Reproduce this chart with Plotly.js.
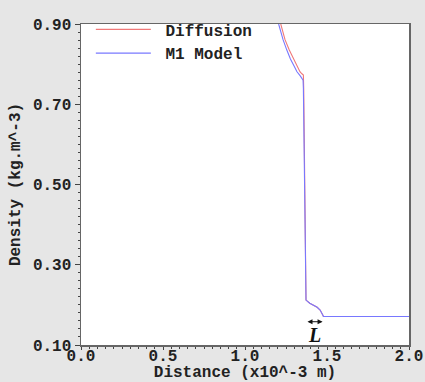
<!DOCTYPE html>
<html><head><meta charset="utf-8">
<script src="https://cdn.plot.ly/plotly-3.0.1.min.js"></script>
<style>html,body{margin:0;padding:0;background:#e6e6e6;}#chart{width:425px;height:382px;}</style>
</head><body><div id="chart"></div>
<script>
const diffusionX = [1.218, 1.230, 1.244, 1.270, 1.295, 1.318, 1.335, 1.347, 1.356, 1.358, 1.362, 1.366, 1.370, 1.372, 1.395, 1.420, 1.440, 1.458, 1.468, 1.475, 1.478, 1.500, 2.000];
const diffusionY = [0.900, 0.880, 0.861, 0.835, 0.813, 0.795, 0.781, 0.776, 0.773, 0.740, 0.600, 0.450, 0.300, 0.212, 0.204, 0.199, 0.194, 0.187, 0.181, 0.174, 0.171, 0.171, 0.171];
const m1X = [1.205, 1.217, 1.232, 1.255, 1.277, 1.300, 1.317, 1.338, 1.354, 1.356, 1.360, 1.365, 1.369, 1.372, 1.395, 1.420, 1.440, 1.458, 1.468, 1.475, 1.478, 1.500, 2.000];
const m1Y = [0.900, 0.880, 0.861, 0.835, 0.813, 0.795, 0.781, 0.770, 0.760, 0.740, 0.600, 0.450, 0.300, 0.212, 0.204, 0.199, 0.194, 0.187, 0.181, 0.174, 0.171, 0.171, 0.171];
const xTicks = [0.0, 0.5, 1.0, 1.5, 2.0];
const xTickText = ['0.0', '0.5', '1.0', '1.5', '2.0'];
const yTicks = [0.10, 0.30, 0.50, 0.70, 0.90];
const yTickText = ['0.10', '0.30', '0.50', '0.70', '0.90'];
const lenL = {x0: 1.372, x1: 1.473, y: 0.158, labelX: 1.421, labelY: 0.124};

const mono = {family: 'Liberation Mono, Courier New, monospace', size: 16, color: '#222', weight: 'bold'};
const data = [
  {x: diffusionX, y: diffusionY, mode: 'lines', name: '\u00a0Diffusion', line: {color: 'rgb(240,120,120)', width: 1.1}},
  {x: m1X, y: m1Y, mode: 'lines', name: '\u00a0M1 Model', line: {color: 'rgb(120,120,255)', width: 1.1}}
];
const axisCommon = {
  showline: true, mirror: true, linecolor: '#666', linewidth: 1.5,
  ticks: 'outside', ticklen: 5, tickcolor: '#444', showgrid: false, zeroline: false,
  tickfont: mono,
  minor: {ticks: 'outside', ticklen: 2, tickcolor: '#444', showgrid: false}
};
const layout = {
  width: 425, height: 382,
  margin: {l: 81, r: 16, t: 14, b: 37},
  paper_bgcolor: '#e6e6e6', plot_bgcolor: '#ffffff',
  showlegend: true,
  legend: {x: 0.03, y: 1.036, xanchor: 'left', yanchor: 'top', bgcolor: 'rgba(0,0,0,0)',
    font: mono, itemwidth: 55, tracegroupgap: 0},
  xaxis: Object.assign({}, axisCommon, {range: [0, 2], tickvals: xTicks, ticktext: xTickText,
    ticklen: 3, ticklabelstandoff: -8,
    minor: Object.assign({}, axisCommon.minor, {dtick: 0.05}),
    title: {text: 'Distance (x10^-3 m)', font: mono, standoff: 2}}),
  yaxis: Object.assign({}, axisCommon, {range: [0.10, 0.90], tickvals: yTicks, ticktext: yTickText,
    minor: Object.assign({}, axisCommon.minor, {dtick: 0.02}),
    title: {text: 'Density (kg.m^-3)', font: mono, standoff: 8}}),
  annotations: [
    {x: lenL.x1, y: lenL.y, ax: lenL.x0, ay: lenL.y, axref: 'x', ayref: 'y', xref: 'x', yref: 'y',
     text: '', showarrow: true, arrowside: 'end+start', arrowhead: 2, arrowsize: 1, arrowwidth: 1, arrowcolor: '#111'},
    {x: lenL.labelX, y: lenL.labelY, xref: 'x', yref: 'y', text: '<b><i>L</i></b>', showarrow: false,
     font: {family: 'Liberation Serif, Times New Roman, serif', size: 20, color: '#111'}}
  ]
};
Plotly.newPlot('chart', data, layout, {displayModeBar: false, staticPlot: true});
</script></body></html>
